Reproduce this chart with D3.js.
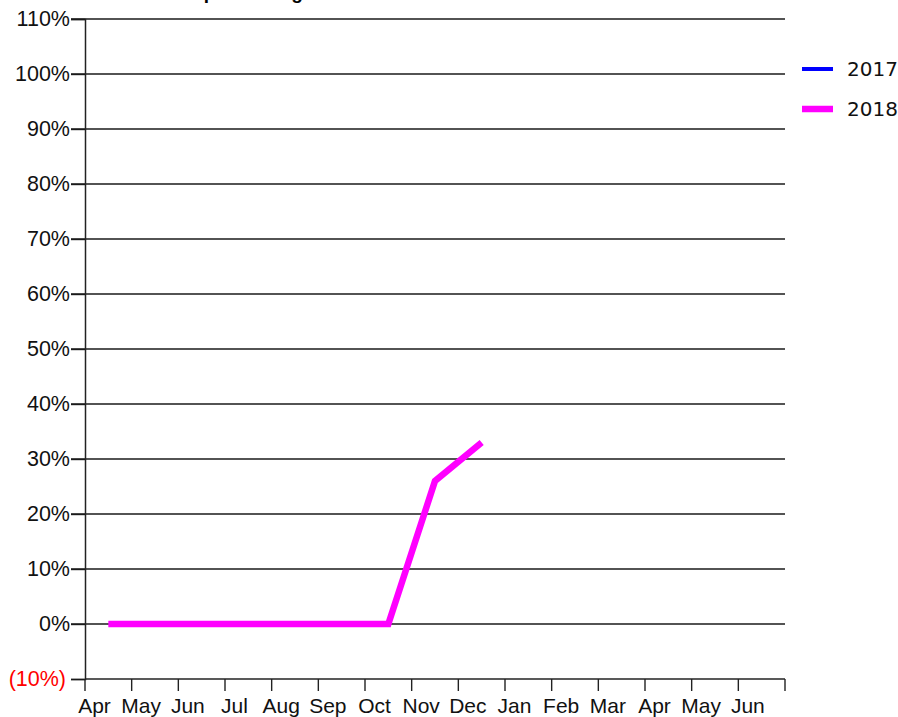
<!DOCTYPE html>
<html>
<head>
<meta charset="utf-8">
<script src="https://cdn.jsdelivr.net/npm/d3@7"></script>
<style>
  body { margin: 0; background: #fff; }
  svg { display: block; }
</style>
</head>
<body>
<div id="chart"></div>
<script>
// months along the x axis (Apr 2018 .. Jun 2019)
const months = ["Apr", "May", "Jun", "Jul", "Aug", "Sep", "Oct", "Nov", "Dec", "Jan", "Feb", "Mar", "Apr2", "May2", "Jun2"];
const monthLabels = ["Apr", "May", "Jun", "Jul", "Aug", "Sep", "Oct", "Nov", "Dec", "Jan", "Feb", "Mar", "Apr", "May", "Jun"];
const yTicks = [-0.1, 0, 0.1, 0.2, 0.3, 0.4, 0.5, 0.6, 0.7, 0.8, 0.9, 1.0, 1.1];
const series2017 = [];
const series2018 = [0, 0, 0, 0, 0, 0, 0, 0.26, 0.33];
const seriesNames = ["2017", "2018"];

const W = 898, H = 717;
const margin = { top: 19, right: 113, bottom: 38, left: 85 };
const width = W - margin.left - margin.right;
const height = H - margin.top - margin.bottom;

const svg = d3.select("#chart").append("svg")
  .attr("width", W).attr("height", H);

// title, mostly cut off at the top edge
svg.append("text")
  .attr("x", 191).attr("y", -1)
  .style("font-family", "Liberation Sans, Arial, sans-serif")
  .style("font-weight", "bold")
  .style("font-size", "19px")
  .text("Spend Budget");

const g = svg.append("g").attr("transform", `translate(${margin.left},${margin.top})`);

const x = d3.scaleBand().domain(months).range([0, width]);
const y = d3.scaleLinear().domain([-0.1, 1.1]).range([height, 0]);

const fmt = v => {
  const p = Math.round(v * 100);
  return p < 0 ? `(${-p}%)` : `${p}%`;
};

// grid lines
g.append("g").selectAll("line")
  .data(yTicks.filter(d => d > -0.1))
  .join("line")
  .attr("x1", -14).attr("x2", width)
  .attr("y1", d => y(d)).attr("y2", d => y(d))
  .attr("stroke", "#1a1a1a").attr("stroke-width", 1.4);

// y axis
const yAxis = g.append("g")
  .call(d3.axisLeft(y).tickValues(yTicks).tickSize(14).tickFormat(fmt));
yAxis.select(".domain").attr("stroke", "#222").attr("stroke-width", 1.5);
yAxis.selectAll(".tick line").attr("stroke", "#1a1a1a").attr("stroke-width", 1.4);
yAxis.selectAll("text")
  .attr("x", d => d < 0 ? -19 : -15)
  .style("font-family", "Liberation Sans, Arial, sans-serif")
  .style("font-size", "21.5px")
  .attr("fill", d => d < 0 ? "#ff0000" : "#111");

// x axis: ticks at band edges, labels in between
const xg = g.append("g").attr("transform", `translate(0,${height})`);
xg.append("line")
  .attr("x1", 0).attr("x2", width)
  .attr("stroke", "#222").attr("stroke-width", 1.5);
const edges = months.map(m => x(m)).concat([width]);
xg.selectAll(".tk").data(edges).join("line")
  .attr("class", "tk")
  .attr("x1", d => d).attr("x2", d => d)
  .attr("y1", 0).attr("y2", 12)
  .attr("stroke", "#222").attr("stroke-width", 1.4);
xg.selectAll(".lbl").data(months).join("text")
  .attr("class", "lbl")
  .attr("x", d => x(d) + 9.5)
  .attr("y", 34)
  .attr("text-anchor", "middle")
  .style("font-family", "Liberation Sans, Arial, sans-serif")
  .style("font-size", "21px")
  .attr("fill", "#111")
  .text((d, i) => monthLabels[i]);

// series lines
const line = d3.line()
  .x((d, i) => x(months[i]) + x.bandwidth() / 2)
  .y(d => y(d));

g.append("path").datum(series2017)
  .attr("fill", "none").attr("stroke", "#0000ff").attr("stroke-width", 4)
  .attr("d", line);

g.append("path").datum(series2018)
  .attr("fill", "none").attr("stroke", "#ff00ff").attr("stroke-width", 6.5)
  .attr("stroke-linejoin", "miter")
  .attr("d", line);

// legend
const legend = svg.append("g").attr("transform", "translate(802,69)");
const legColors = ["#0000ff", "#ff00ff"];
const legWidths = [4, 6.5];
seriesNames.forEach((name, i) => {
  const row = legend.append("g").attr("transform", `translate(0,${i * 40})`);
  row.append("line")
    .attr("x1", 0).attr("x2", 31)
    .attr("stroke", legColors[i]).attr("stroke-width", legWidths[i]);
  row.append("text")
    .attr("x", 45).attr("y", 7)
    .style("font-family", "DejaVu Sans, Verdana, sans-serif")
    .style("font-size", "20px")
    .attr("fill", "#111")
    .text(name);
});
</script>
</body>
</html>
